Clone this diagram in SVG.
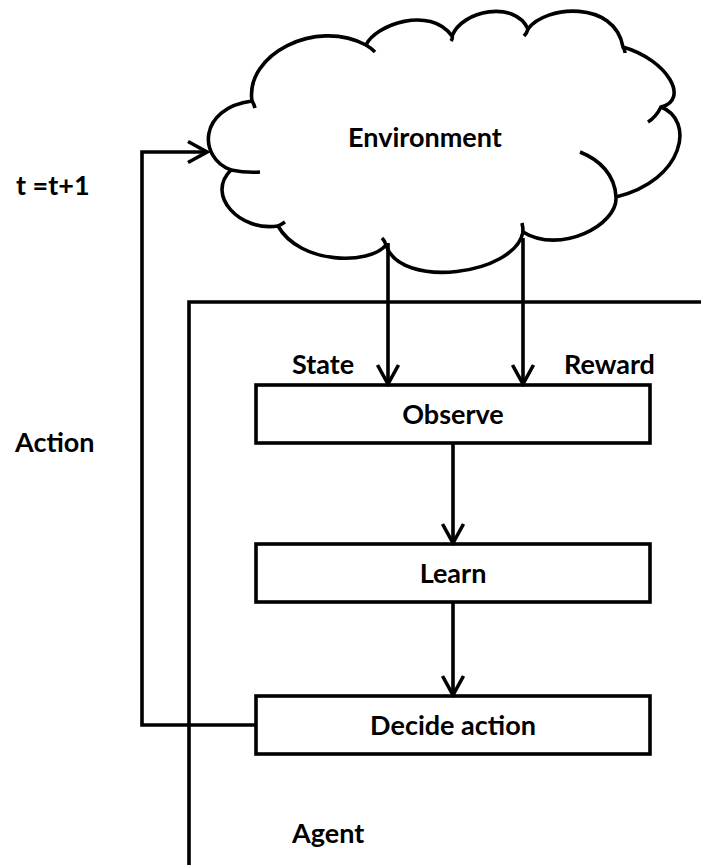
<svg xmlns="http://www.w3.org/2000/svg" width="701" height="865" viewBox="0 0 701 865">
  <defs>
    <style>
      .ln { fill: none; stroke: #000; stroke-width: 3.6; }
      .box { fill: #fff; stroke: #000; stroke-width: 3.6; }
      .t { font-family: Lato, "Liberation Sans", sans-serif; font-weight: bold; font-size: 27px; fill: #000; }
      .c { text-anchor: middle; }
    </style>
    <marker id="arr" viewBox="-22 -14 25 28" markerWidth="25" markerHeight="28" refX="0" refY="0" markerUnits="userSpaceOnUse" orient="auto">
      <path d="M-19,-10.5 L0,0 L-19,10.5" fill="none" stroke="#000" stroke-width="3.6"/>
    </marker>
  </defs>
  <rect width="701" height="865" fill="#fff"/>

  <g id="agent">
    <polyline class="ln" points="701,302 189,302 189,865"/>
    <text class="t" x="292" y="843">Agent</text>
  </g>

  <g id="environment">
    <path class="ln" stroke-linejoin="round" d="M252,101 C245,55 315,18 366,45 C375,25 430,5 452,36 C462,10 515,0 528,29 C545,5 615,0 623,47 C668,60 690,100 661,107 C695,120 685,180 616,197 C618,225 560,255 523,232 C515,275 400,290 386,245 C370,265 300,265 278,226 C240,232 205,195 231,170 C198,158 198,108 252,101 Z"/>
    <path class="ln" d="M252,101 q2,3 3,7 M366,45 q5,3 9,7 M452,36 q1,2 -1,5 M528,29 q-1,4 -4,7 M623,47 q2,3 2,6 M661,107 q-5,10 -13,15 M616,197 C615,175 600,160 580,152 M523,232 q0,-5 -1,-9 M386,245 q-1,-4 -4,-7 M278,226 q4,-2 7,-4 M231,170 q15,3 29,2"/>
    <text class="t" x="348" y="147">Environment</text>
  </g>

  <g id="observe">
    <rect class="box" x="256" y="385" width="394" height="58"/>
    <text class="t c" x="453" y="424">Observe</text>
  </g>

  <g id="learn">
    <rect class="box" x="256" y="544" width="394" height="58"/>
    <text class="t c" x="453" y="583">Learn</text>
  </g>

  <g id="decide">
    <rect class="box" x="256" y="696" width="394" height="58"/>
    <text class="t c" x="453" y="735">Decide action</text>
  </g>

  <g id="connectors">
    <line class="ln" x1="388" y1="243" x2="388" y2="384" marker-end="url(#arr)"/>
    <line class="ln" x1="523" y1="238" x2="523" y2="384" marker-end="url(#arr)"/>
    <line class="ln" x1="453" y1="443" x2="453" y2="543" marker-end="url(#arr)"/>
    <line class="ln" x1="453" y1="602" x2="453" y2="695" marker-end="url(#arr)"/>
    <polyline class="ln" points="256,725 142,725 142,152 207,152" marker-end="url(#arr)"/>
    <text class="t" x="292" y="374">State</text>
    <text class="t" x="564" y="374">Reward</text>
    <text class="t" x="15" y="452">Action</text>
    <text class="t" x="16" y="195">t =t+1</text>
  </g>
</svg>
